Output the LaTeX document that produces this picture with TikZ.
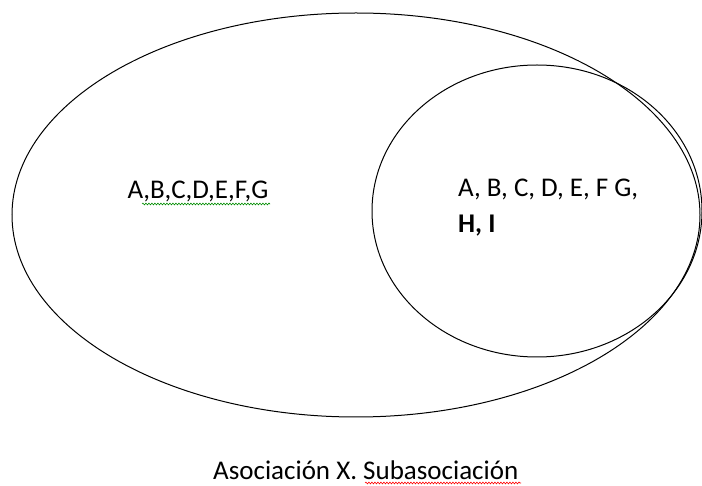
\documentclass[tikz,border=0pt]{standalone}
\usepackage{fontspec}
\setmainfont{Carlito}
\usetikzlibrary{decorations.pathmorphing}
\begin{document}
\begin{tikzpicture}[x=1pt,y=-1pt,
  lbl/.style={inner sep=0pt,anchor=base west,font=\fontsize{27}{32}\selectfont},
  squig/.style={decorate,decoration={snake,amplitude=0.9pt,segment length=3pt},line width=0.6pt}]
\useasboundingbox (0,0) rectangle (702,486);
\draw[line width=1pt] (356,215) ellipse [x radius=344,y radius=202];
\draw[line width=1pt] (537,211) ellipse [x radius=165,y radius=146];
\node[lbl,anchor=base] (set1) at (198,199) {A,B,C,D,E,F,G};
\node[lbl] (set2) at (458,197) {A, B, C, D, E, F G,};
\node[lbl] (set3) at (458,233) {\bfseries H, I};
\node[lbl] (cap) at (213,479) {Asociación X. Subasociación};
\draw[squig,green!55!black] (142,204) -- (270,204);
\draw[squig,red] (365,483) -- (521,483);
\end{tikzpicture}
\end{document}
